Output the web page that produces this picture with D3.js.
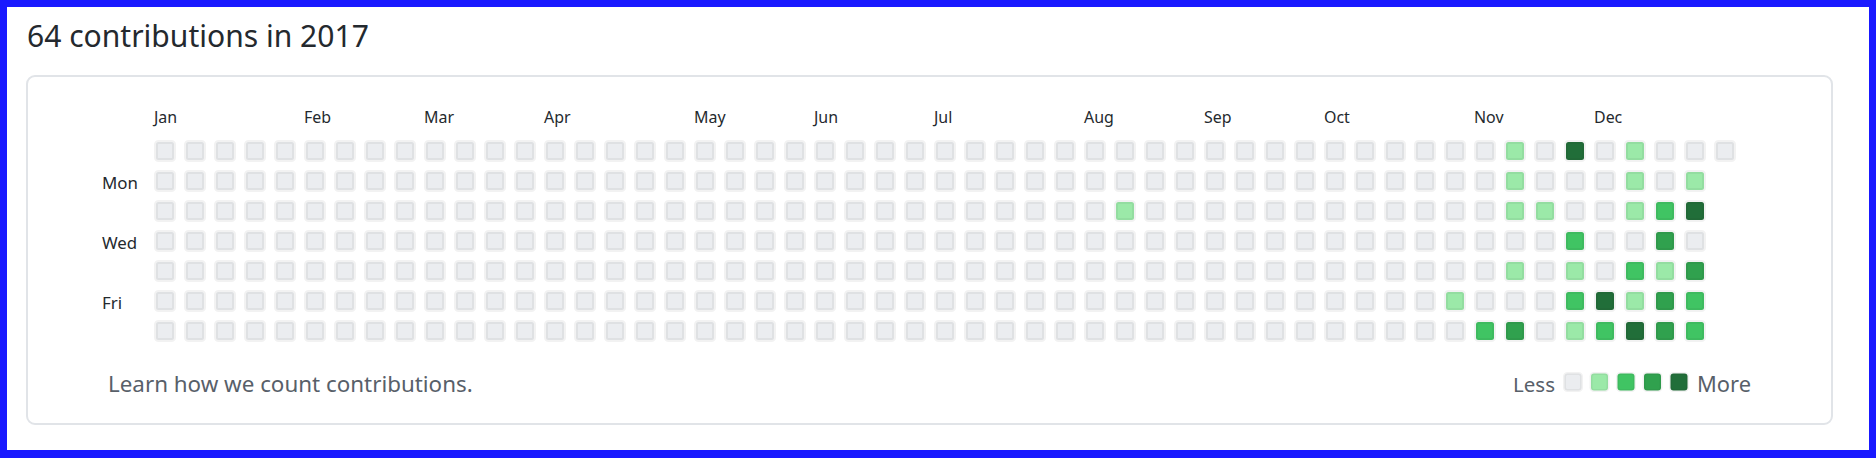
<!DOCTYPE html>
<html>
<head>
<meta charset="utf-8">
<script src="https://cdn.jsdelivr.net/npm/d3@7"></script>
<style>
  html, body { margin: 0; padding: 0; background: #1919ff; }
  svg { display: block; }
  text { font-family: "Noto Sans", "Open Sans", sans-serif; }
</style>
</head>
<body>
<svg id="chart" width="1876" height="458"></svg>
<script>
// ---------- data ----------
const year = 2017;
const monthLabels = ["Jan","Feb","Mar","Apr","May","Jun","Jul","Aug","Sep","Oct","Nov","Dec"];
const dayLabels = ["Mon","Wed","Fri"];
const dayLabelRows = [1, 3, 5];
const contributionDates = [
  "2017-08-15",
  "2017-11-03","2017-11-11","2017-11-12","2017-11-13","2017-11-14","2017-11-16","2017-11-18",
  "2017-11-21","2017-11-26","2017-11-29","2017-11-30",
  "2017-12-01","2017-12-02","2017-12-08","2017-12-09",
  "2017-12-10","2017-12-11","2017-12-12","2017-12-14","2017-12-15","2017-12-16",
  "2017-12-19","2017-12-20","2017-12-21","2017-12-22","2017-12-23",
  "2017-12-25","2017-12-26","2017-12-28","2017-12-29","2017-12-30"
];
const contributionCounts = [
  1,
  1,2,1,1,1,1,3,
  1,5,2,1,
  2,1,4,2,
  1,1,1,2,1,4,
  2,3,1,3,3,
  1,5,3,2,2
];
const levelThresholds = [1, 2, 3, 4];
const levelColors = ["#ebedf0","#9be9a8","#40c463","#30a14e","#216e39"];
const footerText = "Learn how we count contributions.";
const legendLabels = ["Less", "More"];

// ---------- setup ----------
const svg = d3.select("#chart");
const W = 1876, H = 458;
svg.append("rect").attr("width", W).attr("height", H).attr("fill", "#1919ff");
svg.append("rect").attr("x", 7).attr("y", 7).attr("width", 1862).attr("height", 443).attr("fill", "#ffffff");

// panel
svg.append("rect")
  .attr("x", 27).attr("y", 76).attr("width", 1805).attr("height", 348)
  .attr("rx", 8).attr("ry", 8)
  .attr("fill", "#ffffff").attr("stroke", "#e1e4e8").attr("stroke-width", 2);

// helper: fit text to a target width by adjusting font-size
function fit(sel, targetWidth, startSize) {
  sel.style("font-size", startSize + "px");
  const w = sel.node().getComputedTextLength();
  const s = startSize * targetWidth / w;
  sel.style("font-size", s + "px");
  return s;
}

const countMap = new Map(contributionDates.map((d, i) => [d, contributionCounts[i]]));
const total = d3.sum(contributionCounts);

// title
const title = svg.append("text")
  .attr("x", 27).attr("y", 47)
  .attr("fill", "#24292e")
  .text(`${total} contributions in ${year}`);
fit(title, 342, 32);

// days
const start = new Date(Date.UTC(year, 0, 1));
const end = new Date(Date.UTC(year + 1, 0, 1));
const days = d3.utcDay.range(start, end);
const fmt = d3.utcFormat("%Y-%m-%d");
const weekOf = d => d3.utcSunday.count(d3.utcYear(d), d);
const nWeeks = weekOf(days[days.length - 1]) + 1;

const x = d3.scaleLinear().domain([0, nWeeks]).range([154, 154 + nWeeks * 30]);
const y = d3.scaleLinear().domain([0, 7]).range([140, 140 + 7 * 30]);
const level = d3.scaleThreshold().domain(levelThresholds).range(levelColors);
const cell = 22, stroke = 4;

svg.append("g").selectAll("rect")
  .data(days)
  .join("rect")
  .attr("x", d => x(weekOf(d)) + stroke / 2)
  .attr("y", d => y(d.getUTCDay()) + stroke / 2)
  .attr("width", cell - stroke)
  .attr("height", cell - stroke)
  .attr("rx", 2.5).attr("ry", 2.5)
  .attr("fill", d => level(countMap.get(fmt(d)) || 0))
  .attr("stroke", "rgba(27,31,35,0.06)")
  .attr("stroke-width", stroke);

// month labels: first week whose Sunday falls in the month
const months = d3.utcMonth.range(start, end);
const mSel = svg.append("g").selectAll("text")
  .data(months)
  .join("text")
  .attr("x", m => {
    const firstSunday = d3.utcSunday.ceil(m);
    return x(weekOf(firstSunday));
  })
  .attr("y", 123)
  .attr("fill", "#24292e")
  .text((m, i) => monthLabels[i]);
const mSize = fit(mSel.filter((m, i) => i === 2), 30, 18);
mSel.style("font-size", mSize + "px");

// day labels
const dSel = svg.append("g").selectAll("text")
  .data(dayLabels)
  .join("text")
  .attr("x", 102)
  .attr("y", (d, i) => y(dayLabelRows[i]) + cell / 2 + 8)
  .attr("fill", "#24292e")
  .text(d => d);
const dSize = fit(dSel.filter((d, i) => i === 0), 36, 18);
dSel.style("font-size", dSize + "px");

// footer
const foot = svg.append("text")
  .attr("x", 108).attr("y", 392)
  .attr("fill", "#586069")
  .text(footerText);
fit(foot, 365, 22);

// legend
const less = svg.append("text")
  .attr("x", 1513).attr("y", 392)
  .attr("fill", "#586069")
  .text(legendLabels[0]);
fit(less, 42, 22);

const lx = d3.scaleLinear().domain([0, levelColors.length]).range([1563, 1563 + levelColors.length * 26.5]);
const lcell = 20, lstroke = 3;
svg.append("g").selectAll("rect")
  .data(levelColors)
  .join("rect")
  .attr("x", (c, i) => lx(i) + lstroke / 2)
  .attr("y", 372 + lstroke / 2)
  .attr("width", lcell - lstroke)
  .attr("height", lcell - lstroke)
  .attr("rx", 3).attr("ry", 3)
  .attr("fill", c => c)
  .attr("stroke", "rgba(27,31,35,0.06)")
  .attr("stroke-width", lstroke);

const more = svg.append("text")
  .attr("x", 1697).attr("y", 392)
  .attr("fill", "#586069")
  .text(legendLabels[1]);
fit(more, 54, 22);
</script>
</body>
</html>
